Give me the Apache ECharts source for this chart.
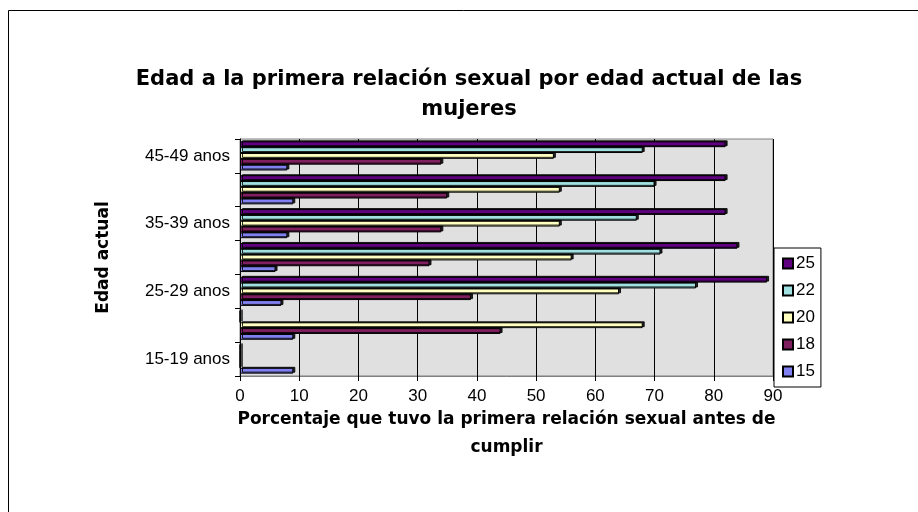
<!DOCTYPE html>
<html>
<head>
<meta charset="utf-8">
<script src="https://cdn.jsdelivr.net/npm/echarts@6/dist/echarts.min.js"></script>
<style>
html,body{margin:0;padding:0;background:#fff;}
#chart{width:918px;height:512px;}
</style>
</head>
<body>
<div id="chart"></div>
<script>
const categories = ['15-19 anos','20-24 anos','25-29 anos','30-34 anos','35-39 anos','40-44 anos','45-49 anos'];
const seriesNames = ['15','18','20','22','25'];
const s15 = [9, 9, 7, 6, 8, 9, 8];
const s18 = [0, 44, 39, 32, 34, 35, 34];
const s20 = [0, 68, 64, 56, 54, 54, 53];
const s22 = [0, 0, 77, 71, 67, 70, 68];
const s25 = [0, 0, 89, 84, 82, 82, 82];
const xTicks = [0,10,20,30,40,50,60,70,80,90];
const colors = ['#8080F0','#7F1F5F','#FFFFC0','#A0E0E0','#600080'];
const values = [s15, s18, s20, s22, s25];

const FONT = 'Liberation Sans, Arial, sans-serif';
const BOLD = 'DejaVu Sans, Liberation Sans, sans-serif';
const chart = echarts.init(document.getElementById('chart'), null, {renderer:'canvas'});
// in a horizontal ECharts bar chart the first series sits at the top of each band,
// so list series from 25 down to 15
const order = [4,3,2,1,0];
const option = {
  animation:false,
  backgroundColor:'#fff',
  title:{
    text:'Edad a la primera relación sexual por edad actual de las\nmujeres',
    left:464, textAlign:'center', top:60,
    textStyle:{fontFamily:BOLD,fontSize:21,fontWeight:'bold',color:'#000',lineHeight:30}
  },
  legend:{
    orient:'vertical', left:774, top:248,
    data:['25','22','20','18','15'],
    itemWidth:10, itemHeight:10, itemGap:10,
    borderColor:'#000', borderWidth:1, padding:[7,6,7,8],
    icon:'rect',
    textStyle:{fontFamily:FONT,fontSize:17,color:'#000',padding:[0,0,0,-2]}
  },
  grid:{left:240, top:139, width:533, height:237, show:true, backgroundColor:'#E0E0E0', borderColor:'#808080', borderWidth:1},
  xAxis:{
    type:'value', min:xTicks[0], max:xTicks[xTicks.length-1], interval:10,
    name:'Porcentaje que tuvo la primera relación sexual antes de\ncumplir',
    nameLocation:'middle', nameGap:27,
    nameTextStyle:{fontFamily:BOLD,fontSize:17,fontWeight:'bold',color:'#000',lineHeight:28},
    axisLine:{show:true,lineStyle:{color:'#808080',width:1}},
    axisTick:{show:true,length:5,lineStyle:{color:'#000'}},
    axisLabel:{fontFamily:FONT,fontSize:17,color:'#000',margin:12},
    splitLine:{show:true,lineStyle:{color:'#000',width:1}}
  },
  yAxis:{
    type:'category', data:categories,
    name:'Edad actual', nameLocation:'middle', nameGap:128,
    nameTextStyle:{fontFamily:BOLD,fontSize:17,fontWeight:'bold',color:'#000'},
    axisLine:{show:true,lineStyle:{color:'#000',width:1}},
    axisTick:{show:true,length:5,interval:0,lineStyle:{color:'#000'}},
    axisLabel:{interval:1,fontFamily:FONT,fontSize:17,color:'#000',margin:10},
    splitLine:{show:false}
  },
  series: order.map(i=>({
    name:seriesNames[i], type:'bar', data:values[i],
    barGap:'0%', barCategoryGap:'14%',
    itemStyle:{color:colors[i], borderColor:'#000', borderWidth:1,
      shadowColor:'rgba(0,0,0,0.85)', shadowBlur:0, shadowOffsetX:2, shadowOffsetY:-1}
  })),
  graphic:[{
    type:'rect', shape:{x:8.5,y:10.5,width:940,height:540},
    style:{fill:'none',stroke:'#000',lineWidth:1}, silent:true, z:-1
  }]
};
chart.setOption(option);
</script>
</body>
</html>
